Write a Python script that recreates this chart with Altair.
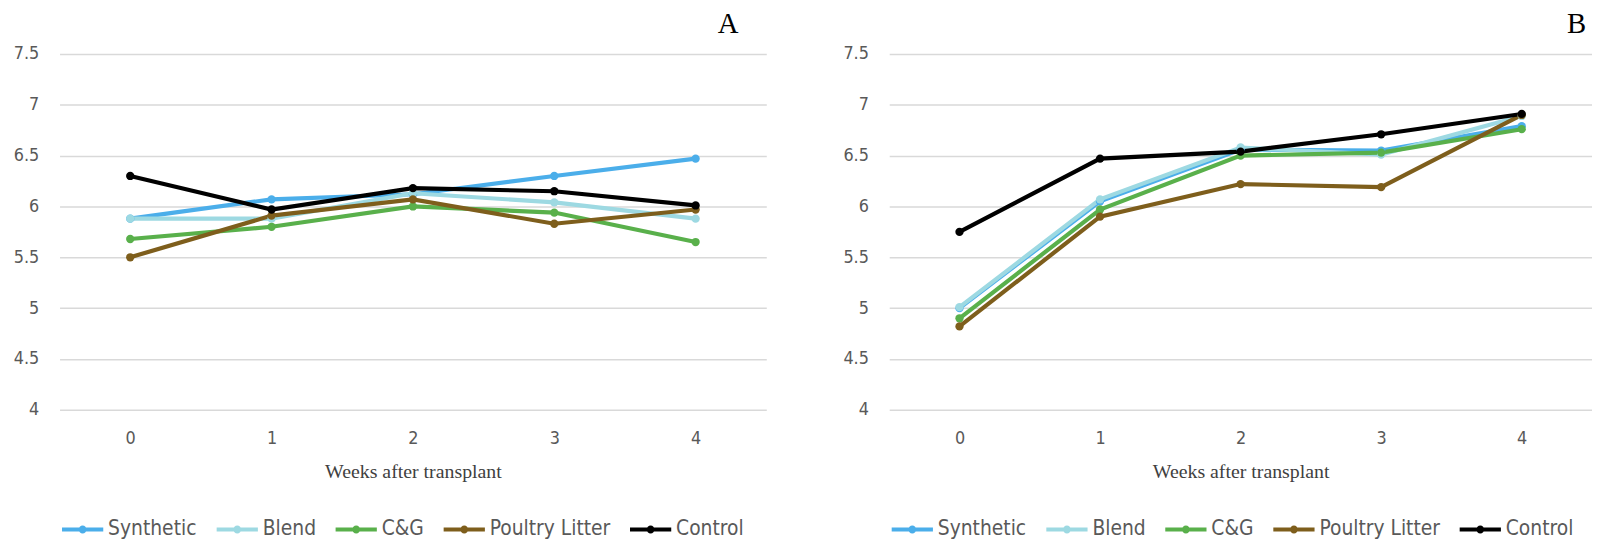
import altair as alt
import pandas as pd

weeks = [0, 1, 2, 3, 4]
series = ["Synthetic", "Blend", "C&G", "Poultry Litter", "Control"]
colors = ["#4BAEEA", "#9DD9E2", "#59B04B", "#7E5E1C", "#000000"]

# Panel A
a_synthetic = [5.88, 6.07, 6.12, 6.30, 6.47]
a_blend = [5.88, 5.88, 6.13, 6.04, 5.88]
a_cg = [5.68, 5.80, 6.00, 5.94, 5.65]
a_poultry = [5.50, 5.91, 6.07, 5.83, 5.97]
a_control = [6.30, 5.97, 6.18, 6.15, 6.01]

# Panel B
b_synthetic = [5.00, 6.05, 6.56, 6.55, 6.79]
b_blend = [5.01, 6.07, 6.58, 6.51, 6.89]
b_cg = [4.90, 5.97, 6.50, 6.53, 6.76]
b_poultry = [4.82, 5.90, 6.22, 6.19, 6.90]
b_control = [5.75, 6.47, 6.54, 6.71, 6.91]

y_ticks = [4, 4.5, 5, 5.5, 6, 6.5, 7, 7.5]

LABEL_FONT = "Liberation Sans Narrow, DejaVu Sans Condensed, sans-serif"
SERIF = "Liberation Serif, Times New Roman, serif"
GREY = "#595959"


def long_df(values):
    rows = []
    for i, (name, vals) in enumerate(zip(series, values)):
        for w, v in zip(weeks, vals):
            rows.append({"week": w, "value": v, "series": name, "k": i})
    return pd.DataFrame(rows)


df_a = long_df([a_synthetic, a_blend, a_cg, a_poultry, a_control])
df_b = long_df([b_synthetic, b_blend, b_cg, b_poultry, b_control])

# legend glyph: a short thick line with a dot, starting at the nominal box's left edge
SYMBOL = ("M-1,-0.25L4.2,-0.25L4.2,0.25L-1,0.25Z "
          "M1.1,0A0.5,0.5 0 1,1 2.1,0A0.5,0.5 0 1,1 1.1,0Z")


def panel(df, label, width, dx):
    x = alt.X("week:O", title="Weeks after transplant",
              scale=alt.Scale(type="point", padding=0.5),
              axis=alt.Axis(labelAngle=0, domain=False, ticks=False, grid=False,
                            labelFont=LABEL_FONT, labelFontSize=18, labelColor=GREY,
                            labelPadding=20, titleFont=SERIF, titleFontSize=20,
                            titleFontWeight="normal", titleColor="#404040",
                            titlePadding=14))
    y = alt.Y("value:Q", title=None,
              scale=alt.Scale(domain=[4, 7.5], zero=False, nice=False),
              axis=alt.Axis(values=y_ticks, format="~g", domain=False, ticks=False,
                            grid=True, gridColor="#D9D9D9", gridWidth=1.5,
                            labelFont=LABEL_FONT, labelFontSize=18, labelColor=GREY,
                            labelPadding=21))
    legend = alt.Legend(title=None, orient="bottom", direction="horizontal",
                        symbolType=SYMBOL, symbolSize=256, symbolStrokeWidth=0,
                        symbolOpacity=1,
                        labelFont=LABEL_FONT, labelFontSize=21,
                        labelColor=GREY, labelOffset=28,
                        columnPadding=17, offset=38)
    color = alt.Color("series:N", scale=alt.Scale(domain=series, range=colors),
                      legend=legend)
    lines = alt.Chart(df).mark_line(strokeWidth=4.2).encode(
        x=x, y=y, color=color, order=alt.Order("week:O"),
    )
    pts = alt.Chart(df).mark_circle(size=70, opacity=1).encode(
        x=x, y=y, color=color,
    )
    return alt.layer(lines, pts).properties(
        width=width, height=359,
        title=alt.TitleParams(label, anchor="end", dx=dx, font=SERIF, fontSize=29,
                              fontWeight="normal", color="#000000", offset=6),
    )


chart = alt.hconcat(
    panel(df_a, "A", 713, -28),
    panel(df_b, "B", 709, -6),
    spacing=77,
).resolve_legend(color="independent").resolve_scale(color="independent").properties(
    padding={"left": 5, "top": 0, "right": 0, "bottom": 0}
).configure_view(stroke=None)

chart.save("out.html", embed_options={"renderer": "svg", "actions": False})
